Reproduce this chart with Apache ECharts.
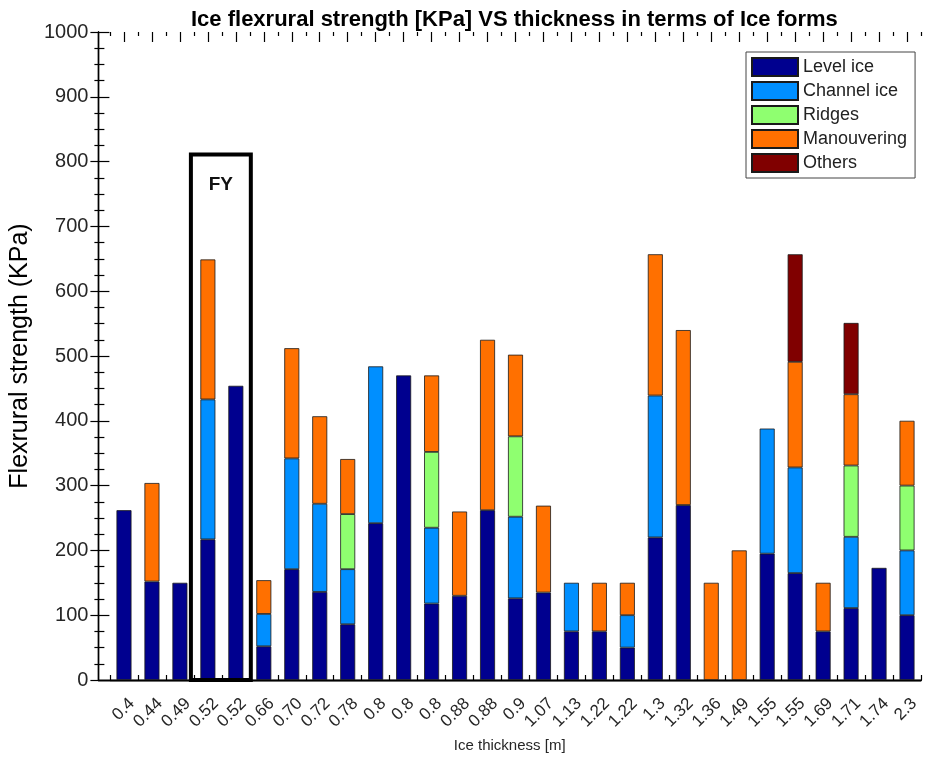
<!DOCTYPE html>
<html><head><meta charset="utf-8">
<script src="https://cdn.jsdelivr.net/npm/echarts@6/dist/echarts.min.js"></script>
<style>html,body{margin:0;padding:0;background:#fff}#c{width:928px;height:760px}</style>
</head><body><div id="c"></div>
<script>
// ---- data ----
const categories = ['0.4','0.44','0.49','0.52','0.52','0.66','0.70','0.72','0.78','0.8','0.8','0.8','0.88','0.88','0.9','1.07','1.13','1.22','1.22','1.3','1.32','1.36','1.49','1.55','1.55','1.69','1.71','1.74','2.3'];
const seriesNames = ['Level ice','Channel ice','Ridges','Manouvering','Others'];
const levelIce    = [262,152,150,217,454,52,171,136,86,242,470,118,130,262,126,135,75,75,50,220,270,'-','-',195,165,75,111,173,100];
const channelIce  = ['-','-','-',216,'-',50,171,136,85,242,'-',117,'-','-',126,'-',75,'-',50,219,'-','-','-',193,163,'-',110,'-',100];
const ridges      = ['-','-','-','-','-','-','-','-',85,'-','-',117,'-','-',124,'-','-','-','-','-','-','-','-','-','-','-',110,'-',100];
const manouvering = ['-',152,'-',216,'-',52,170,135,85,'-','-',118,130,263,126,134,'-',75,50,218,270,150,200,'-',163,75,110,'-',100];
const others      = ['-','-','-','-','-','-','-','-','-','-','-','-','-','-','-','-','-','-','-','-','-','-','-','-',166,'-',110,'-','-'];
const fyBox = [3, 4, 811];      // first category index, last category index, box top value
const fyLabel = ['FY', 764];    // label text, label height value

// ---- chart ----
const FONT = '"Liberation Sans", Arial, Helvetica, sans-serif';
const AX = '#262626';
const colors = ['#00008F','#008FFF','#8FFF70','#FF7000','#800000'];
const values = [levelIce, channelIce, ridges, manouvering, others];
const lineSt = {color:'#000', width:1.4};
const tickSt = {color:'#000', width:1.2};

const chart = echarts.init(document.getElementById('c'));
const series = values.map((d,i)=>({
  name: seriesNames[i], type:'bar', stack:'ice', xAxisIndex:0, yAxisIndex:0,
  data:d, barWidth:15,
  itemStyle:{color:colors[i], borderColor:'#1a1a1a', borderWidth:0.8}
}));
series.push({
  type:'custom', xAxisIndex:0, yAxisIndex:0, silent:true, z:5,
  data:[fyBox],
  renderItem:(params, api)=>{
    const a = api.coord([api.value(0), api.value(2)]);
    const b = api.coord([api.value(1), 0]);
    const bw = api.size([1,0])[0];
    const x0 = a[0]-bw/2-3, x1 = b[0]+bw/2+1;
    const ty = api.coord([api.value(0), fyLabel[1]])[1];
    return {type:'group', children:[
      {type:'rect', shape:{x:x0, y:a[1], width:x1-x0, height:b[1]-a[1]}, style:{fill:'none', stroke:'#000', lineWidth:4}},
      {type:'text', style:{text:fyLabel[0], x:(x0+x1)/2, y:ty, align:'center', verticalAlign:'middle', font:'bold 19px "Liberation Sans", Arial', fill:'#111'}}
    ]};
  }
});

chart.setOption({
  animation:false,
  backgroundColor:'#fff',
  textStyle:{fontFamily:FONT},
  title:{text:'Ice flexrural strength [KPa] VS thickness in terms of Ice forms', left:186, top:4,
    textStyle:{fontSize:22, fontWeight:'bold', color:'#000', fontFamily:FONT}},
  legend:{orient:'vertical', left:746, top:52, itemWidth:46, itemHeight:18, itemGap:4,
    padding:[5,8,5,5], borderColor:'#444', borderWidth:1, backgroundColor:'#fff',
    icon:'rect', data:seriesNames, textStyle:{fontSize:18, color:'#222', fontFamily:FONT}},
  grid:[
    {left:110, right:7, top:32, bottom:80},
    {left:96, right:7, top:32, bottom:80},
    {left:118, right:-1, top:32, bottom:80}
  ],
  xAxis:[
    {type:'category', gridIndex:0, data:categories, position:'bottom',
      axisLine:{show:true, lineStyle:lineSt},
      axisTick:{show:true, inside:true, length:5, interval:0, lineStyle:tickSt},
      axisLabel:{show:false, interval:0}, splitLine:{show:false}},
    {type:'category', gridIndex:0, data:categories, position:'top',
      axisLine:{show:false}, axisTick:{show:true, inside:true, length:10, interval:0, alignWithLabel:true, lineStyle:tickSt},
      axisLabel:{show:false, interval:0}, splitLine:{show:false}},
    {type:'value', gridIndex:1, position:'bottom', min:0, max:1,
      axisLine:{show:true, lineStyle:lineSt}, axisTick:{show:false}, axisLabel:{show:false}, splitLine:{show:false},
      name:'Ice thickness [m]', nameLocation:'middle', nameGap:58,
      nameTextStyle:{fontSize:15, color:AX, fontFamily:FONT}},
    {type:'value', gridIndex:1, position:'top', min:0, max:1,
      axisLine:{show:true, lineStyle:lineSt}, axisTick:{show:false}, axisLabel:{show:false}, splitLine:{show:false}},
    {type:'category', gridIndex:2, data:categories, position:'bottom',
      axisLine:{show:false}, axisTick:{show:false}, splitLine:{show:false},
      axisLabel:{rotate:45, fontSize:17, color:AX, margin:21, interval:0, fontFamily:FONT}},
    {type:'category', gridIndex:0, data:categories, position:'top',
      axisLine:{show:false}, axisTick:{show:true, inside:true, length:4, interval:0, lineStyle:tickSt},
      axisLabel:{show:false, interval:0}, splitLine:{show:false}}
  ],
  yAxis:[
    {type:'value', gridIndex:0, min:0, max:1000, show:false},
    {type:'value', gridIndex:1, position:'left', min:0, max:1000, interval:100,
      axisLine:{show:true, lineStyle:lineSt},
      axisTick:{show:true, inside:true, length:11, lineStyle:tickSt},
      minorTick:{show:true, splitNumber:4, length:6, lineStyle:tickSt},
      axisLabel:{fontSize:20, color:AX, margin:10, fontFamily:FONT, formatter:(v)=>String(v)}, splitLine:{show:false},
      name:'Flexrural strength (KPa)', nameLocation:'middle', nameGap:61,
      nameTextStyle:{fontSize:25, color:'#000', fontFamily:FONT}},
    {type:'value', gridIndex:1, position:'right', min:0, max:1000, interval:100,
      axisLine:{show:true, lineStyle:lineSt},
      axisTick:{show:true, inside:true, length:8, lineStyle:tickSt},
      minorTick:{show:true, splitNumber:4, length:4, lineStyle:tickSt},
      axisLabel:{show:false}, splitLine:{show:false}},
    {type:'value', gridIndex:2, min:0, max:1000, show:false}
  ],
  series: series
});
</script></body></html>
